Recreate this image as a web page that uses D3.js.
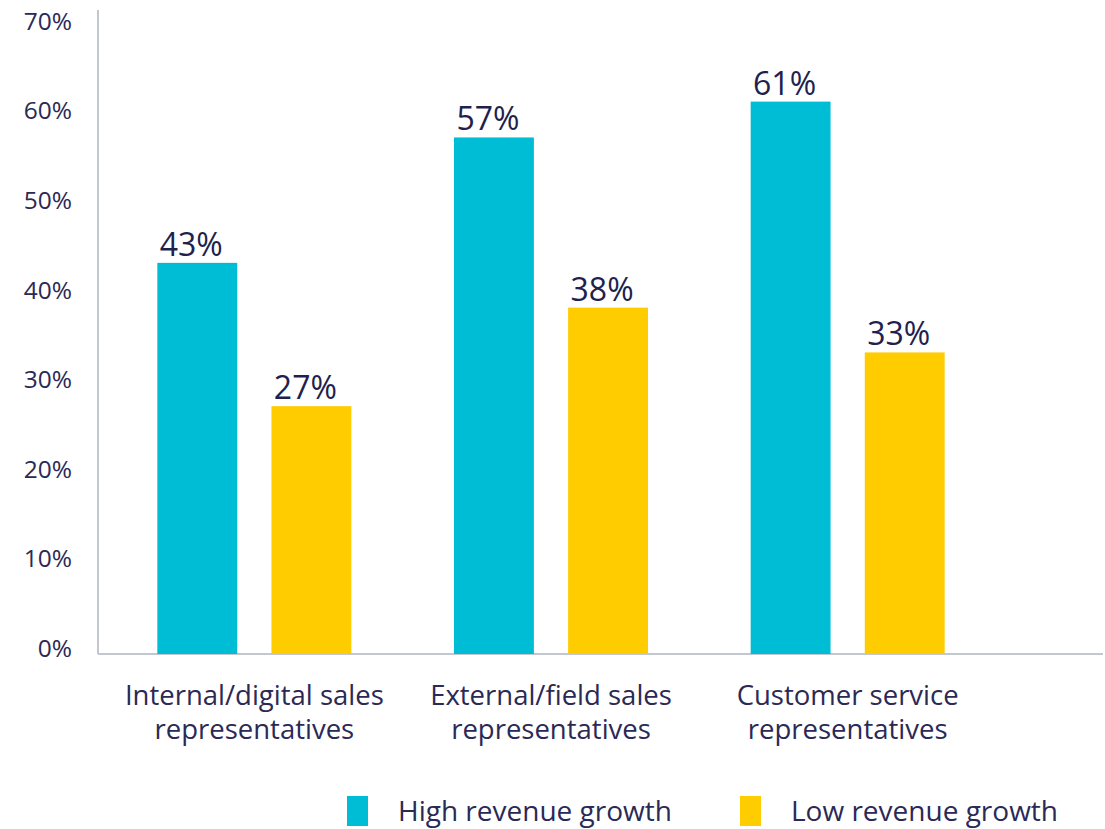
<!DOCTYPE html>
<html>
<head>
<meta charset="utf-8">
<script src="https://cdn.jsdelivr.net/npm/d3@7"></script>
<style>
  body { margin: 0; background: #fff; }
  svg { font-family: "Open Sans", sans-serif; }
</style>
</head>
<body>
<svg width="1105" height="829"></svg>
<script>
const width = 1105, height = 829;
const svg = d3.select("svg");

// data
const categories = [
  ["Internal/digital sales", "representatives"],
  ["External/field sales", "representatives"],
  ["Customer service", "representatives"]
];
const series = ["High revenue growth", "Low revenue growth"];
const highValues = [43, 57, 61];
const lowValues = [27, 38, 33];
const yTicks = [0, 10, 20, 30, 40, 50, 60, 70];

const colors = ["#00bdd6", "#ffcc00"];
const textColor = "#2b2955";

const x = d3.scaleBand()
  .domain(d3.range(categories.length))
  .range([106, 996]);

const sub = d3.scaleBand()
  .domain(series)
  .range([0, 194])
  .paddingInner(0.3);

const y = d3.scaleLinear()
  .domain([0, 70])
  .range([648, 21]);

const baseline = 654;

// axis lines
svg.append("line")
  .attr("x1", 98).attr("x2", 98)
  .attr("y1", 10).attr("y2", baseline)
  .attr("stroke", "#c3c7cf").attr("stroke-width", 2);
svg.append("line")
  .attr("x1", 98).attr("x2", 1103)
  .attr("y1", baseline).attr("y2", baseline)
  .attr("stroke", "#c3c7cf").attr("stroke-width", 2);

// y tick labels
svg.append("g")
  .selectAll("text")
  .data(yTicks)
  .join("text")
  .attr("x", 72)
  .attr("y", d => y(d))
  .attr("dy", "0.36em")
  .attr("text-anchor", "end")
  .attr("font-size", 24.5)
  .attr("fill", textColor)
  .text(d => d + "%");

// bars
const data = categories.map((c, i) => ({
  i,
  values: [
    { s: series[0], v: highValues[i], c: colors[0] },
    { s: series[1], v: lowValues[i], c: colors[1] }
  ]
}));

const groups = svg.append("g")
  .selectAll("g")
  .data(data)
  .join("g")
  .attr("transform", d => `translate(${x(d.i) + x.bandwidth() / 2 - 97},0)`);

groups.selectAll("rect")
  .data(d => d.values)
  .join("rect")
  .attr("x", d => sub(d.s))
  .attr("y", d => y(d.v))
  .attr("width", sub.bandwidth())
  .attr("height", d => baseline - y(d.v))
  .attr("fill", d => d.c);

groups.selectAll("text.val")
  .data(d => d.values)
  .join("text")
  .attr("class", "val")
  .attr("x", d => sub(d.s) + sub.bandwidth() / 2 - 6)
  .attr("y", d => y(d.v) - 7)
  .attr("text-anchor", "middle")
  .attr("font-size", 32)
  .attr("font-weight", 500)
  .attr("fill", "#221f4e")
  .text(d => d.v + "%");

// category labels
const catLabels = svg.append("g")
  .selectAll("text")
  .data(data)
  .join("text")
  .attr("text-anchor", "middle")
  .attr("font-size", 27.5)
  .attr("fill", textColor)
  .attr("transform", d => `translate(${x(d.i) + x.bandwidth() / 2},0)`);

catLabels.selectAll("tspan")
  .data(d => categories[d.i])
  .join("tspan")
  .attr("x", 0)
  .attr("y", (d, k) => 705 + k * 34)
  .text(d => d);

// legend
const legend = svg.append("g")
  .selectAll("g")
  .data(series)
  .join("g")
  .attr("transform", (d, i) => `translate(${347 + i * 393},796)`);

legend.append("rect")
  .attr("width", 21)
  .attr("height", 30)
  .attr("fill", (d, i) => colors[i]);

legend.append("text")
  .attr("x", 51)
  .attr("y", 25)
  .attr("font-size", 28)
  .attr("fill", textColor)
  .text(d => d);
</script>
</body>
</html>
